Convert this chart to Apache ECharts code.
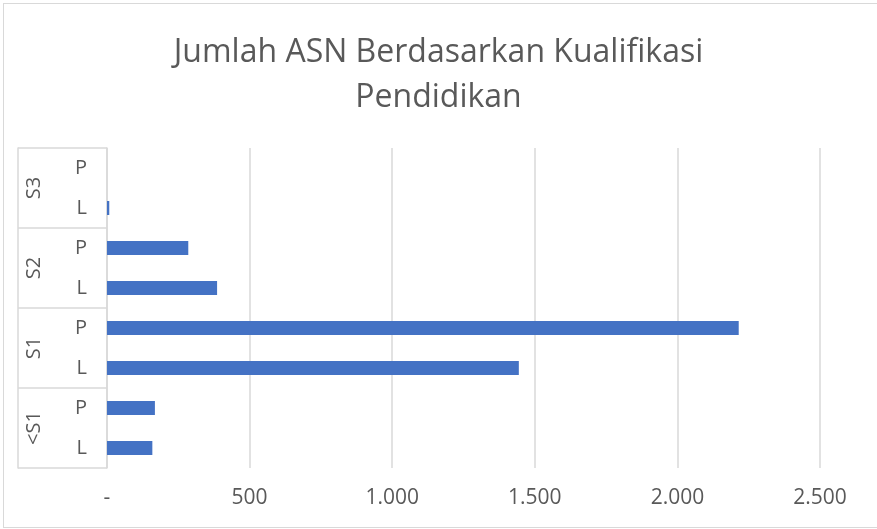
<!DOCTYPE html>
<html>
<head>
<meta charset="utf-8">
<script src="https://cdn.jsdelivr.net/npm/echarts@6/dist/echarts.min.js"></script>
<style>
  html, body { margin: 0; padding: 0; background: #fff; }
  #main { position: absolute; left: 0; top: 0; width: 877px; height: 529px; }
  #frame { position: absolute; left: 3px; top: 3px; width: 900px; height: 523px;
           border: 1px solid #d9d9d9; pointer-events: none; }
</style>
</head>
<body>
<div id="main"></div>
<div id="frame"></div>
<script>
var chartDom = document.getElementById('main');
var myChart = echarts.init(chartDom);
var option;

// categories, bottom to top
const groups = ['<S1', 'S1', 'S2', 'S3'];
const genders = ['L', 'P'];
// values per group: [L, P]
const values_lt_s1 = [159, 168];
const values_s1 = [1444, 2215];
const values_s2 = [386, 285];
const values_s3 = [8, 0];

const xTicks = { min: 0, max: 2500, interval: 500 };

const rowLabels = groups.flatMap(() => genders);
const data = [].concat(values_lt_s1, values_s1, values_s2, values_s3);

const textColor = '#595959';
const lineColor = '#d9d9d9';
const font = 'Open Sans';

option = {
  animation: false,
  title: {
    text: 'Jumlah ASN Berdasarkan Kualifikasi\nPendidikan',
    left: 'center',
    top: 25,
    textStyle: {
      fontFamily: font,
      fontSize: 32,
      fontWeight: 'normal',
      color: textColor,
      lineHeight: 45
    }
  },
  grid: {
    left: 107,
    right: 57,
    top: 148,
    bottom: 61
  },
  xAxis: {
    type: 'value',
    min: xTicks.min,
    max: xTicks.max,
    interval: xTicks.interval,
    axisLine: { show: false },
    axisTick: { show: false },
    splitLine: { lineStyle: { color: lineColor, width: 1.5 } },
    axisLabel: {
      margin: 20,
      fontFamily: font,
      fontSize: 21,
      color: textColor,
      formatter: v => v === 0 ? '-' : v.toLocaleString('de-DE')
    }
  },
  yAxis: [
    {
      type: 'category',
      data: rowLabels,
      position: 'left',
      axisLine: { lineStyle: { color: lineColor, width: 1.5 } },
      axisTick: { show: false },
      axisLabel: {
        margin: 20,
        fontFamily: font,
        fontSize: 20,
        color: textColor
      }
    },
    {
      type: 'category',
      data: groups,
      position: 'left',
      offset: 89,
      axisLine: { show: true, lineStyle: { color: lineColor, width: 1.5 } },
      axisTick: {
        show: true,
        inside: true,
        interval: 0,
        length: 89,
        lineStyle: { color: lineColor, width: 1.5 }
      },
      axisLabel: {
        inside: true,
        rotate: 90,
        margin: 6,
        fontFamily: font,
        fontSize: 20,
        color: textColor
      }
    }
  ],
  series: [
    {
      type: 'bar',
      yAxisIndex: 0,
      data: data,
      barWidth: 14,
      itemStyle: { color: '#4472c4' }
    }
  ]
};

option && myChart.setOption(option);

window.onresize = function() {
  myChart.resize();
};
</script>
</body>
</html>
